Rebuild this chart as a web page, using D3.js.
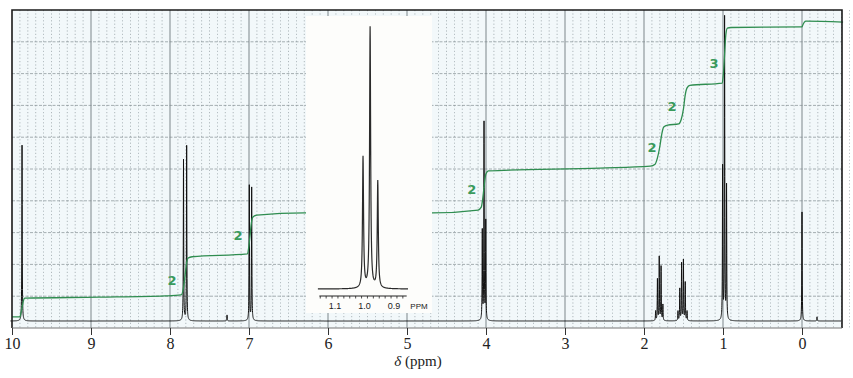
<!DOCTYPE html>
<html>
<head>
<meta charset="utf-8">
<script src="https://cdn.jsdelivr.net/npm/d3@7"></script>
<style>
  body { margin: 0; background: #fff; }
  svg { display: block; }
</style>
</head>
<body>
<svg id="chart" width="853" height="378"></svg>
<script>
// ppm axis labels
const ppmTicks = [10, 9, 8, 7, 6, 5, 4, 3, 2, 1, 0];

// peak lists: [ppm, height] (height in % of chart height)
const aldehydePeaks = [[9.873, 55.3]];
const aromaticPeaksA = [[7.829, 50.6], [7.789, 55.0]];
const aromaticPeaksB = [[6.996, 42.5], [6.966, 41.8]];
const solventPeaks = [[7.278, 1.9]];
const och2Peaks = [[4.047, 28], [4.025, 62], [4.003, 31]];
const ch2PeaksA = [[1.853, 3], [1.830, 13], [1.807, 20], [1.784, 17], [1.761, 5]];
const ch2PeaksB = [[1.570, 3], [1.547, 10], [1.524, 18], [1.501, 19], [1.478, 12], [1.455, 3]];
const ch3Peaks = [[1.005, 48], [0.980, 95], [0.955, 42]];
const tmsPeaks = [[0.0, 34.3], [-0.19, 1.3]];

// integration trace: [ppm, level]
const integralTrace = [
  [10.0, 3.5], [9.90, 3.5], [9.885, 5.0], [9.87, 6.8], [9.855, 8.6], [9.84, 9.4],
  [8.90, 9.7], [8.06, 10.1], [7.86, 10.4], [7.83, 12.5], [7.81, 16.3], [7.79, 20.5],
  [7.77, 22.0], [7.72, 22.4], [7.02, 23.3], [7.00, 26.0], [6.985, 29.5], [6.97, 33.0],
  [6.95, 34.9], [6.90, 35.5], [6.30, 36.2], [4.68, 36.2], [4.10, 37.1], [4.06, 38.0],
  [4.045, 40.0], [4.03, 43.1], [4.015, 46.5], [4.00, 48.5], [3.97, 49.4], [2.56, 50.3],
  [1.92, 50.9], [1.86, 51.5], [1.83, 53.5], [1.80, 57.0], [1.775, 61.0], [1.75, 63.2],
  [1.70, 63.8], [1.56, 64.2], [1.53, 65.5], [1.50, 69.0], [1.48, 73.0], [1.455, 75.5],
  [1.42, 76.3], [1.01, 77.0], [0.995, 80.0], [0.98, 86.0], [0.965, 92.0], [0.945, 94.3],
  [0.90, 94.5], [0.0, 94.7], [-0.01, 95.3], [-0.03, 96.2], [-0.05, 96.5], [-0.52, 96.2]
];

// integral numbers: [ppm, level, text]
const integralLabels = [
  [7.975, 14.8, "2"], [7.14, 29.2, "2"], [4.18, 43.4, "2"],
  [1.90, 56.9, "2"], [1.645, 69.8, "2"], [1.114, 83.3, "3"]
];

// inset (expanded CH3 triplet)
const insetPeaks = [[1.005, 50.2], [0.981, 100], [0.955, 41]];
const insetTicks = [1.1, 1.0, 0.9];

const svg = d3.select('#chart');
const plotL = 12, plotR = 842, plotT = 10, plotB = 328;

const x = d3.scaleLinear().domain([10, 0]).range([plotL, 802]);
const y = d3.scaleLinear().domain([0, 100]).range([plotB, plotT]);
const xEnd = x.invert(plotR);

// plot background
svg.append('rect')
  .attr('x', plotL).attr('y', plotT)
  .attr('width', plotR - plotL).attr('height', plotB - plotT)
  .attr('fill', '#f2f8fa');

// grid
const grid = svg.append('g');
const minor = d3.range(100, Math.floor(xEnd * 10) - 1, -1).map(d => d / 10)
  .filter(d => Math.abs(d - Math.round(d)) > 0.01);
grid.selectAll('.minor').data(minor).enter().append('line')
  .attr('x1', d => x(d)).attr('x2', d => x(d))
  .attr('y1', plotT).attr('y2', plotB)
  .attr('stroke', '#8a969a').attr('stroke-width', 0.8)
  .attr('stroke-dasharray', '1.2,2.2').attr('opacity', 0.8);
grid.selectAll('.hline').data(d3.range(10, 100, 10)).enter().append('line')
  .attr('x1', plotL).attr('x2', plotR)
  .attr('y1', d => y(d)).attr('y2', d => y(d))
  .attr('stroke', '#7f8a8e').attr('stroke-width', 0.9)
  .attr('stroke-dasharray', '3,1.5').attr('opacity', 0.75);
grid.selectAll('.major').data(ppmTicks.slice(1)).enter().append('line')
  .attr('x1', d => x(d)).attr('x2', d => x(d))
  .attr('y1', plotT).attr('y2', plotB)
  .attr('stroke', '#7c868a').attr('stroke-width', 1);

// lorentzian line shape built from a peak list
function spectrum(peakList, from, to, step, hw) {
  const pts = d3.range(from, to, -step).concat(peakList.map(p => p[0]));
  pts.sort((a, b) => b - a);
  return pts.map(p => [p, d3.sum(peakList, k => k[1] * hw * hw / ((p - k[0]) ** 2 + hw * hw))]);
}

const allPeaks = [].concat(aldehydePeaks, aromaticPeaksA, aromaticPeaksB, solventPeaks,
  och2Peaks, ch2PeaksA, ch2PeaksB, ch3Peaks, tmsPeaks);
const baseLevel = 2.2;

svg.append('path')
  .datum(spectrum(allPeaks, 10.02, xEnd + 0.01, 0.001, 0.0028))
  .attr('fill', 'none').attr('stroke', '#111').attr('stroke-width', 1)
  .attr('d', d3.line().x(d => x(d[0])).y(d => y(baseLevel + d[1])));

// integration curve
const green = '#2f8d50';
svg.append('path')
  .datum(integralTrace)
  .attr('fill', 'none').attr('stroke', green).attr('stroke-width', 1.3)
  .attr('d', d3.line().x(d => x(d[0])).y(d => y(d[1])).curve(d3.curveMonotoneX));

svg.selectAll('.ilabel').data(integralLabels).enter().append('text')
  .attr('x', d => x(d[0])).attr('y', d => y(d[1]))
  .attr('text-anchor', 'middle').attr('dominant-baseline', 'central')
  .attr('font-family', 'DejaVu Sans, sans-serif').attr('font-weight', 'bold')
  .attr('font-size', 13).attr('fill', '#3a9a5c')
  .text(d => d[2]);

// inset
const inset = svg.append('g');
inset.append('rect')
  .attr('x', 306).attr('y', 16).attr('width', 126).attr('height', 297)
  .attr('fill', '#fdfdfb');
const xi = d3.scaleLinear().domain([1.1, 0.9]).range([335, 394]);
const yi = d3.scaleLinear().domain([0, 100]).range([289, 28]);
inset.append('path')
  .datum(spectrum(insetPeaks, 1.158, 0.852, 0.0005, 0.0021))
  .attr('fill', 'none').attr('stroke', '#2a2a2a').attr('stroke-width', 1.2)
  .attr('d', d3.line().x(d => xi(d[0])).y(d => yi(d[1])));

const insetAxis = inset.append('g').attr('transform', 'translate(0,296)');
insetAxis.append('line')
  .attr('x1', xi(1.153)).attr('x2', xi(0.857))
  .attr('stroke', '#222').attr('stroke-width', 1);
insetAxis.selectAll('.itick').data(d3.range(115, 85, -2).map(d => d / 100)).enter().append('line')
  .attr('x1', d => xi(d)).attr('x2', d => xi(d))
  .attr('y1', 0).attr('y2', d => insetTicks.some(t => Math.abs(t - d) < 0.001) ? 4 : 2.5)
  .attr('stroke', '#222').attr('stroke-width', 0.8);
insetAxis.selectAll('.ilab').data(insetTicks).enter().append('text')
  .attr('x', d => xi(d)).attr('y', 13)
  .attr('text-anchor', 'middle')
  .attr('font-family', 'Liberation Sans, Arial, sans-serif').attr('font-size', 9).attr('fill', '#222')
  .text(d => d3.format('.1f')(d));
insetAxis.append('text')
  .attr('x', 419).attr('y', 13).attr('text-anchor', 'middle')
  .attr('font-family', 'Liberation Sans, Arial, sans-serif').attr('font-size', 8).attr('fill', '#222')
  .text('PPM');

// frame
svg.append('path')
  .attr('d', `M${plotL},${plotB}V${plotT}H${plotR}V${plotB}`)
  .attr('fill', 'none').attr('stroke', '#1a1a1a').attr('stroke-width', 1.6);
svg.append('line')
  .attr('x1', plotL).attr('x2', plotR).attr('y1', plotB).attr('y2', plotB)
  .attr('stroke', '#777').attr('stroke-width', 1);

// main axis
const axis = svg.append('g')
  .attr('transform', `translate(0,${plotB})`)
  .call(d3.axisBottom(x).tickValues(ppmTicks).tickSize(7).tickPadding(3).tickFormat(d3.format('d')));
axis.select('.domain').remove();
axis.selectAll('line').attr('stroke', '#333');
axis.selectAll('text')
  .attr('font-family', 'Liberation Serif, Times New Roman, serif')
  .attr('font-size', 16).attr('fill', '#222');

const title = svg.append('text')
  .attr('x', 418).attr('y', 366).attr('text-anchor', 'middle')
  .attr('font-family', 'Liberation Serif, Times New Roman, serif')
  .attr('font-size', 15).attr('fill', '#222');
title.append('tspan').attr('font-style', 'italic').text('δ');
title.append('tspan').text(' (ppm)');
</script>
</body>
</html>
